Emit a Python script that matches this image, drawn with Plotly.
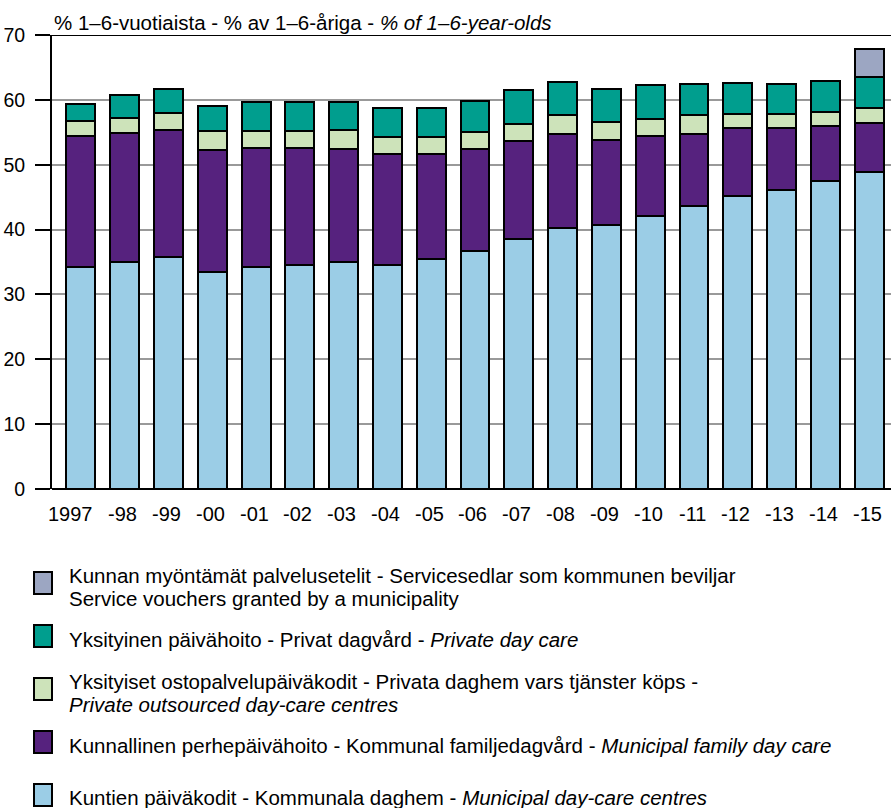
import plotly.graph_objects as go

years = ["1997", "-98", "-99", "-00", "-01", "-02", "-03", "-04", "-05", "-06",
         "-07", "-08", "-09", "-10", "-11", "-12", "-13", "-14", "-15"]

municipal_centres = [34.2, 35.0, 35.7, 33.4, 34.2, 34.6, 35.0, 34.6, 35.5, 36.7,
                     38.5, 40.2, 40.7, 42.1, 43.6, 45.2, 46.1, 47.5, 48.9]
municipal_family = [20.3, 19.9, 19.6, 18.9, 18.4, 18.0, 17.4, 17.0, 16.1, 15.7,
                    15.2, 14.6, 13.1, 12.4, 11.2, 10.4, 9.5, 8.4, 7.6]
private_outsourced = [2.2, 2.3, 2.7, 2.9, 2.6, 2.6, 3.0, 2.7, 2.7, 2.7,
                      2.6, 2.8, 2.8, 2.6, 2.8, 2.2, 2.2, 2.2, 2.3]
private_day_care = [2.6, 3.5, 3.7, 3.9, 4.4, 4.4, 4.2, 4.5, 4.5, 4.8,
                    5.2, 5.2, 5.0, 5.2, 4.9, 4.8, 4.7, 4.8, 4.7]
service_vouchers = [0, 0, 0, 0, 0, 0, 0, 0, 0, 0,
                    0, 0, 0, 0, 0, 0, 0, 0, 4.3]

y_ticks = [0, 10, 20, 30, 40, 50, 60, 70]

series = [
    ("Kuntien päiväkodit - Kommunala daghem - <i>Municipal day-care centres</i>", municipal_centres, "#9BCDE6"),
    ("Kunnallinen perhepäivähoito - Kommunal familjedagvård - <i>Municipal family day care</i>", municipal_family, "#56227E"),
    ("Yksityiset ostopalvelupäiväkodit - Privata daghem vars tjänster köps -<br><i>Private outsourced day-care centres</i>", private_outsourced, "#CDE3BA"),
    ("Yksityinen päivähoito - Privat dagvård - <i>Private day care</i>", private_day_care, "#009E8E"),
    ("Kunnan myöntämät palvelusetelit - Servicesedlar som kommunen beviljar<br>Service vouchers granted by a municipality", service_vouchers, "#9CA6C2"),
]

BAR_W = 0.66
x = list(range(len(years)))
fig = go.Figure()
for name, vals, col in series:
    fig.add_trace(go.Bar(
        x=x, y=vals, name=name, width=BAR_W,
        marker=dict(color=col, line=dict(color="black", width=2)),
        showlegend=False,
    ))

FONT = "Liberation Sans, Arial, Helvetica, sans-serif"

# plot area in pixels
L, R, T, B = 52, 891, 35, 489
W, H = R - L, B - T


def px(xp):
    return (xp - L) / W


def py(yp):
    return (B - yp) / H


shapes = []
annotations = []

# top border at 70
shapes.append(dict(type="line", xref="paper", yref="y", x0=0, x1=1, y0=70, y1=70,
                   line=dict(color="black", width=2), layer="above"))

# title
annotations.append(dict(
    text="% 1–6-vuotiaista - % av 1–6-åriga - <i>% of 1–6-year-olds</i>",
    xref="paper", yref="paper", x=px(52), y=py(22), xanchor="left", yanchor="middle",
    showarrow=False, font=dict(family=FONT, size=20.5, color="black")))

# category labels, right-aligned with each bar's right edge
for xi, lab in zip(x, years):
    annotations.append(dict(
        text=lab, xref="x", yref="paper", x=xi + BAR_W / 2, y=py(514),
        xanchor="right", yanchor="middle", showarrow=False,
        font=dict(family=FONT, size=20, color="black")))

# custom legend (top to bottom)
legend_rows = [
    (series[4], 572, 594, [575, 598]),
    (series[3], 625, 647, [639]),
    (series[2], 678, 700, [681, 704]),
    (series[1], 731, 753, [746]),
    (series[0], 784, 806, [798]),
]
for (name, _vals, col), y0, y1, text_ys in legend_rows:
    shapes.append(dict(type="rect", xref="paper", yref="paper",
                       x0=px(34), x1=px(52), y0=py(y1), y1=py(y0),
                       fillcolor=col, line=dict(color="black", width=2)))
    lines = name.split("<br>")
    for line, ty in zip(lines, text_ys):
        annotations.append(dict(
            text=line, xref="paper", yref="paper", x=px(67), y=py(ty),
            xanchor="left", yanchor="middle", showarrow=False,
            font=dict(family=FONT, size=20.5, color="black")))

fig.update_layout(
    barmode="stack",
    width=891, height=808,
    margin=dict(l=L, r=891 - R, t=T, b=808 - B, pad=0),
    paper_bgcolor="white", plot_bgcolor="white",
    font=dict(family=FONT, size=19, color="black"),
    xaxis=dict(
        range=[-0.66, 18.5], tickmode="array", tickvals=x, ticktext=years,
        showticklabels=False,
        showgrid=False, zeroline=False, showline=False, ticks="",
        fixedrange=True,
    ),
    yaxis=dict(
        range=[0, 70], tickmode="array", tickvals=y_ticks,
        showgrid=True, gridcolor="#999999", gridwidth=1.5,
        zeroline=True, zerolinecolor="black", zerolinewidth=2,
        showline=True, linecolor="black", linewidth=2,
        ticks="outside", ticklen=15, tickcolor="black", tickwidth=1.5,
        ticklabelstandoff=6,
        tickfont=dict(family=FONT, size=19.5, color="black"),
        fixedrange=True,
    ),
    shapes=shapes,
    annotations=annotations,
)

fig.write_html("out.html", config={"displayModeBar": False})

# remove default page margin so the figure sits at the window's top-left corner
with open("out.html", "r", encoding="utf-8") as f:
    html = f.read()
html = html.replace("<body>", '<body style="margin:0;padding:0;overflow:hidden">', 1)
with open("out.html", "w", encoding="utf-8") as f:
    f.write(html)
